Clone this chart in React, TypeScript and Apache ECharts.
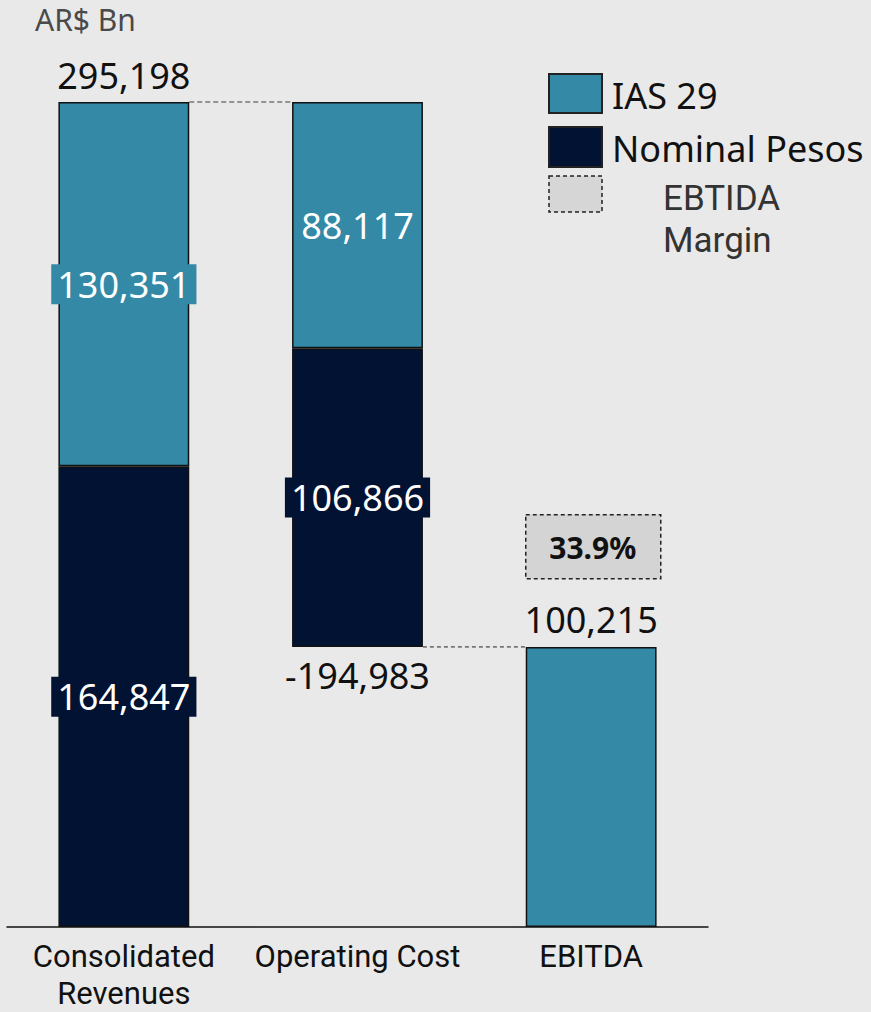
import React, { useEffect, useRef } from "react";
import * as echarts from "echarts";

const categories = ["Consolidated\nRevenues", "Operating Cost", "EBITDA"];
const baseValues = [0, 100215, 0];
const nominalValues: (number | string)[] = [164847, 106866, "-"];
const ias29Values = [130351, 88117, 100215];
const totalLabels = ["295,198", "-194,983", "100,215"];
const totalAnchors = [295198, 100215, 100215];
const totalPositions = ["top", "bottom", "top"];
const connectorValues = [295198, 100215];
const marginText = "33.9%";

const IAS = "#3489a6";
const NOM = "#021233";
const FONT = "'Noto Sans', 'Open Sans', sans-serif";
const FONT2 = "Roboto, 'Noto Sans', sans-serif";

export default function App() {
  const ref = useRef<HTMLDivElement>(null);
  useEffect(() => {
    if (!ref.current) return;
    const chart = echarts.init(ref.current, null, { renderer: "svg" });
    const fmt = (v: number) => v.toLocaleString("en-US");
    const option: any = {
      animation: false,
      backgroundColor: "#e9e9e9",
      textStyle: { fontFamily: FONT },
      grid: { left: 7, right: 163, top: 102, bottom: 85 },
      xAxis: {
        type: "category",
        data: categories,
        axisLine: { lineStyle: { color: "#111", width: 1.5 } },
        axisTick: { show: false },
        axisLabel: { color: "#111", fontSize: 31, lineHeight: 37, margin: 11, fontFamily: FONT2, interval: 0 },
      },
      yAxis: { type: "value", min: 0, max: 295198, show: false, splitLine: { show: false } },
      series: [
        {
          type: "bar",
          stack: "w",
          barWidth: "56%",
          data: baseValues,
          itemStyle: { color: "transparent", borderWidth: 0 },
          silent: true,
        },
        {
          name: "Nominal Pesos",
          type: "bar",
          stack: "w",
          data: nominalValues,
          itemStyle: { color: NOM, borderColor: "#111", borderWidth: 1.5 },
          label: {
            show: true,
            position: "inside",
            color: "#fff",
            fontSize: 36,
            fontFamily: FONT,
            backgroundColor: NOM,
            padding: [2, 6],
            formatter: (p: any) => fmt(p.value),
          },
        },
        {
          name: "IAS 29",
          type: "bar",
          stack: "w",
          data: ias29Values.map((v, i) => (i === 2 ? { value: v, label: { show: false } } : v)),
          itemStyle: { color: IAS, borderColor: "#111", borderWidth: 1.5 },
          label: {
            show: true,
            position: "inside",
            color: "#fff",
            fontSize: 36,
            fontFamily: FONT,
            backgroundColor: IAS,
            padding: [2, 6],
            formatter: (p: any) => fmt(p.value),
          },
        },
        {
          type: "custom",
          silent: true,
          clip: false,
          data: connectorValues.map((v, i) => [i, v]),
          renderItem: (params: any, api: any) => {
            const cat = api.value(0);
            const val = api.value(1);
            const band = api.size([1, 0])[0];
            const half = band * 0.28;
            const p1 = api.coord([cat, val]);
            const p2 = api.coord([cat + 1, val]);
            const first = params.dataIndex === 0;
            return {
              type: "line",
              shape: { x1: p1[0] + half, y1: p1[1], x2: p2[0] - half, y2: p2[1] },
              style: {
                stroke: first ? "#777" : "#222",
                lineWidth: first ? 1.5 : 1,
                lineDash: first ? [5, 3] : [4, 3],
              },
            };
          },
        },
        {
          type: "custom",
          silent: true,
          clip: false,
          data: totalAnchors.map((v, i) => [i, v]),
          renderItem: (params: any, api: any) => {
            const i = params.dataIndex;
            const p = api.coord([api.value(0), api.value(1)]);
            const top = totalPositions[i] === "top";
            return {
              type: "text",
              x: p[0],
              y: top ? p[1] - 27 : p[1] + 29,
              style: {
                text: totalLabels[i],
                fontSize: 36,
                fontFamily: FONT,
                fill: "#111",
                align: "center",
                verticalAlign: "middle",
              },
            };
          },
        },
      ],
      graphic: [
        {
          type: "text",
          left: 35,
          top: 4,
          style: { text: "AR$ Bn", fontSize: 30, fontFamily: FONT, fill: "#4a4a4a" },
        },
        {
          type: "group",
          left: 525,
          top: 514,
          children: [
            {
              type: "rect",
              shape: { x: 0, y: 0, width: 135, height: 64 },
              style: { fill: "#d4d4d4", stroke: "#222", lineWidth: 1.5, lineDash: [4, 3] },
            },
            {
              type: "text",
              x: 67,
              y: 33,
              style: {
                text: marginText,
                fontSize: 30,
                fontWeight: "bold",
                fontFamily: FONT,
                fill: "#111",
                align: "center",
                verticalAlign: "middle",
              },
            },
          ],
        },
        {
          type: "rect",
          shape: { x: 549, y: 74, width: 53, height: 39 },
          style: { fill: IAS, stroke: "#222", lineWidth: 2 },
        },
        {
          type: "rect",
          shape: { x: 549, y: 127, width: 53, height: 40 },
          style: { fill: NOM, stroke: "#222", lineWidth: 2 },
        },
        {
          type: "rect",
          shape: { x: 549, y: 176, width: 53, height: 36 },
          style: { fill: "#d6d6d6", stroke: "#222", lineWidth: 1.5, lineDash: [4, 3] },
        },
        {
          type: "text",
          x: 612,
          y: 95,
          style: { text: "IAS 29", fontSize: 36, fontFamily: FONT, fill: "#111", verticalAlign: "middle" },
        },
        {
          type: "text",
          x: 612,
          y: 148,
          style: { text: "Nominal Pesos", fontSize: 36, fontFamily: FONT, fill: "#111", verticalAlign: "middle" },
        },
        {
          type: "text",
          x: 663,
          y: 177,
          style: {
            text: "EBTIDA\nMargin",
            fontSize: 35,
            lineHeight: 42,
            fontFamily: FONT2,
            fill: "#333",
            verticalAlign: "top",
          },
        },
      ],
    };
    chart.setOption(option);
    return () => chart.dispose();
  }, []);
  return (
    <div
      ref={ref}
      style={{ position: "fixed", left: 0, top: 0, width: 871, height: 1012, background: "#e9e9e9" }}
    />
  );
}
